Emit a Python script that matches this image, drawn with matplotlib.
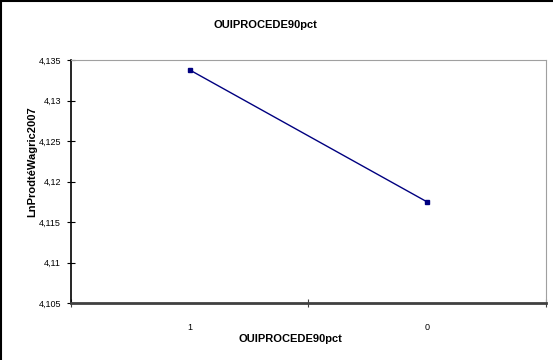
import matplotlib.pyplot as plt
from matplotlib.ticker import FuncFormatter, FixedLocator

# Données
categories = ["1", "0"]
valeurs = [4.1338, 4.1175]
y_ticks = [4.105, 4.11, 4.115, 4.12, 4.125, 4.13, 4.135]

plt.rcParams['font.family'] = ['Liberation Sans', 'DejaVu Sans']

fig = plt.figure(figsize=(5.53, 3.6), dpi=100)
ax = fig.add_axes([0.128, 0.158, 0.859, 0.675])

pos = [i + 0.5 for i in range(len(categories))]
ax.plot(pos, valeurs, color="#000080", lw=1, marker="s", ms=3.2)

ax.set_xlim(0, len(categories))
ax.set_ylim(y_ticks[0], y_ticks[-1])
ax.set_yticks(y_ticks)
ax.yaxis.set_major_formatter(FuncFormatter(lambda v, p: f"{v:.3f}".rstrip("0").replace(".", ",")))

# graduations de l'axe x entre les catégories, étiquettes au centre
ax.xaxis.set_major_locator(FixedLocator(range(len(categories) + 1)))
ax.set_xticklabels([])
ax.xaxis.set_minor_locator(FixedLocator(pos))
ax.set_xticklabels(categories, minor=True)
ax.tick_params(axis="x", which="minor", length=0, labelsize=6.5, pad=14)
ax.tick_params(axis="x", which="major", direction="inout", length=6, color="#404040")
ax.tick_params(axis="y", direction="inout", length=6, labelsize=6.5, pad=4)

ax.spines["top"].set_color("#a0a0a0")
ax.spines["right"].set_color("#a0a0a0")
ax.spines["left"].set_color("black")
ax.spines["left"].set_linewidth(1.2)
ax.spines["bottom"].set_color("#404040")
ax.spines["bottom"].set_linewidth(2)

fig.text(0.48, 0.93, "OUIPROCEDE90pct", ha="center", va="center", fontsize=8, fontweight="bold")
fig.text(0.525, 0.058, "OUIPROCEDE90pct", ha="center", va="center", fontsize=8, fontweight="bold")
fig.text(0.058, 0.55, "LnProdtéWagric2007", ha="center", va="center", rotation=90, fontsize=8, fontweight="bold")

# cadre extérieur (gauche et haut)
fig.add_artist(plt.Line2D([0.002, 0.002], [0, 0.997], color="black", lw=1.5, transform=fig.transFigure))
fig.add_artist(plt.Line2D([0.002, 1], [0.997, 0.997], color="black", lw=1.5, transform=fig.transFigure))

plt.savefig("out.png", dpi=100)
